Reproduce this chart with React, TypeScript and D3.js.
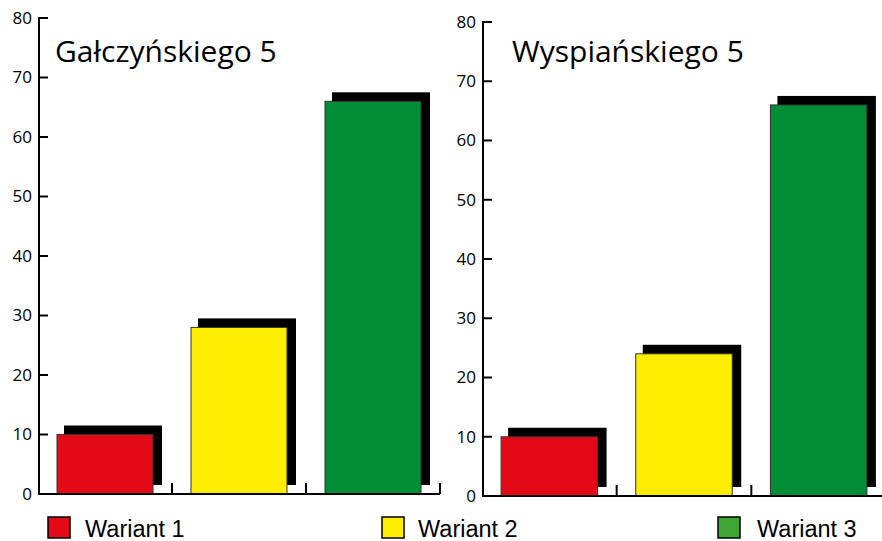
import React from 'react';
import * as d3 from 'd3';

const categories = ['Wariant 1', 'Wariant 2', 'Wariant 3'];
const titles = ['Gałczyńskiego 5', 'Wyspiańskiego 5'];
const galczynskiego = [10, 28, 66];
const wyspianskiego = [10, 24, 66];
const yTicks = [0, 10, 20, 30, 40, 50, 60, 70, 80];
const barColors = ['#e30a17', '#ffed00', '#008d36'];
const legendColors = ['#e30a17', '#ffed00', '#3fa535'];

const panels = [
  { title: titles[0], values: galczynskiego, x0: 38, x1: 440, y0: 494, y1: 18, titleX: 55 },
  { title: titles[1], values: wyspianskiego, x0: 482, x1: 886, y0: 496, y1: 22, titleX: 512 },
];

const legendPos = [
  { sx: 48, tx: 85 },
  { sx: 382, tx: 418 },
  { sx: 718, tx: 757 },
];

const SH = 8;

function Panel({ p }: { p: typeof panels[number] }) {
  const x = d3.scaleBand<string>().domain(categories).range([p.x0, p.x1])
    .paddingInner(38 / 134).paddingOuter(19 / 134);
  const y = d3.scaleLinear().domain([0, 80]).range([p.y0, p.y1]);
  const step = x.step();
  const bounds = categories.map((_, i) => p.x0 + step * (i + 1));
  return (
    <g>
      {p.values.map((v, i) => {
        const c = categories[i];
        const bx = x(c)!;
        const by = y(v);
        return (
          <g key={c}>
            <rect x={bx + SH - 1} y={by - SH - 1} width={x.bandwidth() + 2} height={y(0) - by} fill="#000" />
            <rect x={bx} y={by} width={x.bandwidth()} height={y(0) - by} fill={barColors[i]} stroke="#333" strokeWidth={1} />
          </g>
        );
      })}
      <line x1={p.x0 + 1} x2={p.x0 + 1} y1={y(80) - 1} y2={y(0) + 1} stroke="#000" strokeWidth={2} />
      <line x1={p.x0} x2={p.x1} y1={y(0)} y2={y(0)} stroke="#000" strokeWidth={2} />
      {yTicks.map(t => (
        <g key={t}>
          <line x1={p.x0 + 1} x2={p.x0 + 10} y1={y(t)} y2={y(t)} stroke="#000" strokeWidth={2} />
          <text x={p.x0 - 6} y={y(t)} dy="0.35em" textAnchor="end" fontFamily="'Open Sans', sans-serif" fontSize={17} fill="#000">{t}</text>
        </g>
      ))}
      {bounds.map((b, i) => (
        <line key={i} x1={b} x2={b} y1={y(0)} y2={y(0) - 11} stroke="#000" strokeWidth={2} />
      ))}
      <text x={p.titleX} y={62} fontFamily="'Open Sans', sans-serif" fontSize={30} fill="#000">{p.title}</text>
    </g>
  );
}

export default function App() {
  return (
    <svg width={882} height={541} style={{ position: 'absolute', left: 0, top: 0, background: '#fff' }}>
      <rect width={882} height={541} fill="#fff" />
      {panels.map((p, i) => <Panel key={i} p={p} />)}
      {categories.map((c, i) => (
        <g key={c}>
          <rect x={legendPos[i].sx} y={517} width={22} height={21} fill={legendColors[i]} stroke="#000" strokeWidth={1.5} />
          <text x={legendPos[i].tx} y={537} fontFamily="'Liberation Sans', Arial, sans-serif" fontSize={23.5} fill="#000">{c}</text>
        </g>
      ))}
    </svg>
  );
}
